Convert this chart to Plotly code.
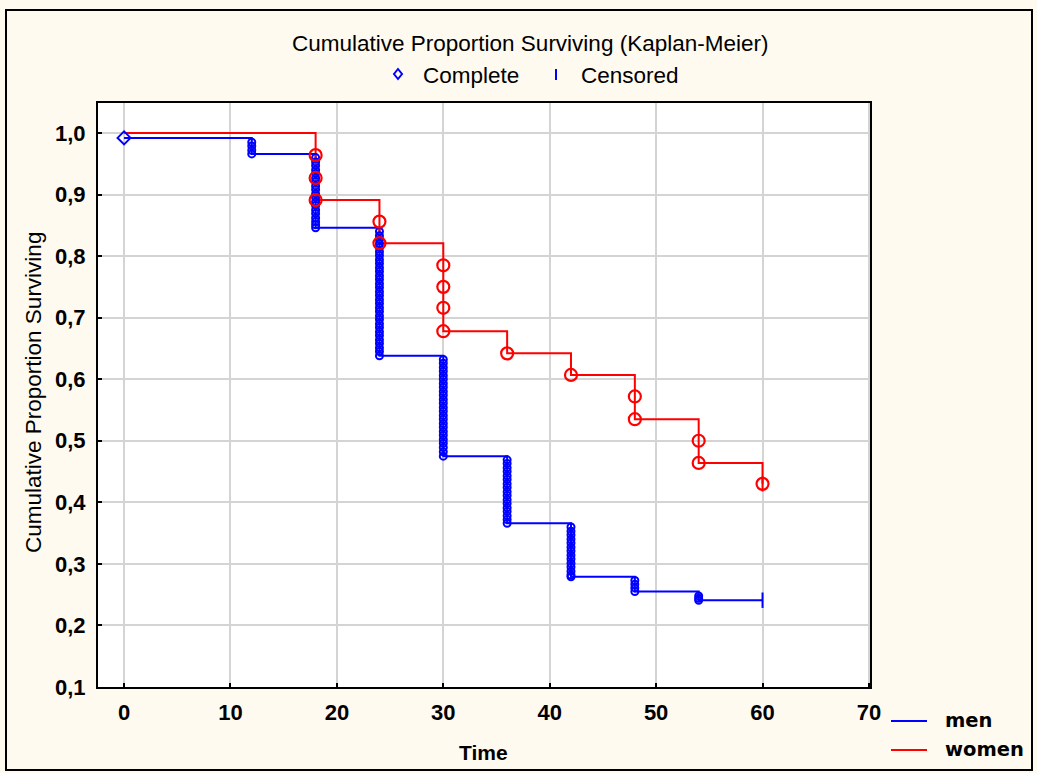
import plotly.graph_objects as go

# ---------------- data ----------------
men_step_time = [0, 12, 18, 24, 30, 36, 42, 48, 54, 60]
men_step_surv = [0.992, 0.966, 0.846, 0.638, 0.475, 0.366, 0.279, 0.255, 0.241, 0.241]

women_step_time = [0, 18, 24, 30, 36, 42, 48, 54, 60]
women_step_surv = [1.0, 0.891, 0.821, 0.678, 0.642, 0.607, 0.535, 0.464, 0.430]

# complete (event) markers - men
men_event_time = ([0] + [12] * 4 + [18] * 19 + [24] * 32 + [30] * 25 + [36] * 17
                  + [42] * 14 + [48] * 4 + [54] * 3)
men_event_surv = [
    0.992,
    0.985, 0.979, 0.972, 0.966,
    0.960, 0.953, 0.947, 0.940, 0.934, 0.927, 0.921, 0.914, 0.908, 0.901,
    0.895, 0.888, 0.882, 0.875, 0.869, 0.862, 0.856, 0.851, 0.846,
    0.840, 0.833, 0.827, 0.820, 0.814, 0.807, 0.801, 0.794, 0.788, 0.781,
    0.775, 0.768, 0.762, 0.755, 0.749, 0.742, 0.736, 0.729, 0.723, 0.716,
    0.710, 0.703, 0.697, 0.690, 0.684, 0.677, 0.671, 0.664, 0.658, 0.651,
    0.645, 0.638,
    0.632, 0.626, 0.619, 0.613, 0.606, 0.600, 0.593, 0.587, 0.580, 0.574,
    0.567, 0.561, 0.554, 0.548, 0.541, 0.535, 0.528, 0.522, 0.515, 0.509,
    0.502, 0.496, 0.489, 0.482, 0.475,
    0.469, 0.463, 0.456, 0.450, 0.443, 0.437, 0.430, 0.424, 0.417, 0.411,
    0.404, 0.398, 0.391, 0.385, 0.378, 0.372, 0.366,
    0.360, 0.353, 0.347, 0.340, 0.334, 0.327, 0.321, 0.314, 0.308, 0.301,
    0.295, 0.288, 0.282, 0.279,
    0.273, 0.267, 0.261, 0.255,
    0.248, 0.244, 0.241,
]

# complete (event) markers - women
women_event_time = [18, 18, 18, 24, 24, 30, 30, 30, 30, 36, 42, 48, 48, 54, 54, 60]
women_event_surv = [0.964, 0.927, 0.891, 0.856, 0.821, 0.785, 0.750, 0.716, 0.678,
                    0.642, 0.607, 0.572, 0.535, 0.500, 0.464, 0.430]

# censored markers
men_cens_time = [60]
men_cens_surv = [0.241]
women_cens_time = [60]
women_cens_surv = [0.430]

x_ticks = [0, 10, 20, 30, 40, 50, 60, 70]
y_ticks = [0.1, 0.2, 0.3, 0.4, 0.5, 0.6, 0.7, 0.8, 0.9, 1.0]

BLUE = "#0000FF"
RED = "#FF0000"

# ---------------- layout geometry ----------------
W, H = 1037, 773
L, R, T, B = 98, 870, 103, 687


def px(x):
    return (x - L) / (R - L)


def py(y):
    return (B - y) / (B - T)


fig = go.Figure()

fig.add_trace(go.Scatter(x=men_step_time, y=men_step_surv, mode="lines",
                         line=dict(color=BLUE, width=2, shape="hv"), name="men",
                         showlegend=False))
fig.add_trace(go.Scatter(x=women_step_time, y=women_step_surv, mode="lines",
                         line=dict(color=RED, width=2, shape="hv"), name="women",
                         showlegend=False))

fig.add_trace(go.Scatter(x=men_event_time[:1], y=men_event_surv[:1], mode="markers",
                         marker=dict(symbol="diamond-open", size=10, color=BLUE,
                                     line=dict(width=2, color=BLUE)),
                         showlegend=False))
fig.add_trace(go.Scatter(x=men_event_time[1:], y=men_event_surv[1:], mode="markers",
                         marker=dict(symbol="circle-open", size=7, color=BLUE,
                                     line=dict(width=2, color=BLUE)),
                         showlegend=False))
fig.add_trace(go.Scatter(x=women_event_time, y=women_event_surv, mode="markers",
                         marker=dict(symbol="circle-open", size=12, color=RED,
                                     line=dict(width=2.2, color=RED)),
                         showlegend=False))
fig.add_trace(go.Scatter(x=men_cens_time, y=men_cens_surv, mode="markers",
                         marker=dict(symbol="line-ns", size=11, color=BLUE,
                                     line=dict(width=2, color=BLUE)),
                         showlegend=False))
fig.add_trace(go.Scatter(x=women_cens_time, y=women_cens_surv, mode="markers",
                         marker=dict(symbol="line-ns", size=11, color=RED,
                                     line=dict(width=2, color=RED)),
                         showlegend=False))

TICKFONT = dict(family="Liberation Sans, Arial", size=22, color="black", weight="bold")

fig.update_xaxes(range=[-2.45, 70.1], tickvals=x_ticks, ticktext=[str(v) for v in x_ticks],
                 showgrid=True, gridcolor="#D4D4D4", gridwidth=2,
                 showline=True, linecolor="black", linewidth=2, mirror=True,
                 ticks="inside", ticklen=4, tickwidth=2, tickcolor="black",
                 tickfont=TICKFONT, ticklabelstandoff=5, zeroline=False)
fig.update_yaxes(range=[0.1, 1.0487], tickvals=y_ticks, tickformat=".1f",
                 showgrid=True, gridcolor="#D4D4D4", gridwidth=2,
                 showline=True, linecolor="black", linewidth=2, mirror=True,
                 ticks="inside", ticklen=4, tickwidth=2, tickcolor="black",
                 tickfont=TICKFONT, ticklabelstandoff=6, zeroline=False)

shapes = [
    # outer frame
    dict(type="rect", xref="paper", yref="paper", x0=px(6), x1=px(1032), y0=py(770), y1=py(10),
         line=dict(color="black", width=2), layer="below"),
    # legend: Complete diamond
    dict(type="path", xref="paper", yref="paper",
         path=f"M {px(398)} {py(69)} L {px(402)} {py(74)} L {px(398)} {py(79)} L {px(394)} {py(74)} Z",
         line=dict(color=BLUE, width=2)),
    # legend: Censored tick
    dict(type="line", xref="paper", yref="paper", x0=px(556), x1=px(556), y0=py(69), y1=py(80),
         line=dict(color=BLUE, width=2)),
    # legend men / women lines
    dict(type="line", xref="paper", yref="paper", x0=px(891), x1=px(927), y0=py(721), y1=py(721),
         line=dict(color=BLUE, width=2)),
    dict(type="line", xref="paper", yref="paper", x0=px(891), x1=px(927), y0=py(750), y1=py(750),
         line=dict(color=RED, width=2)),
]

TXT = dict(family="Liberation Sans, Arial", size=22.5, color="black")
annotations = [
    dict(text="Cumulative Proportion Surviving (Kaplan-Meier)", x=px(530), y=py(43),
         xref="paper", yref="paper", showarrow=False, font=TXT, xanchor="center", yanchor="middle"),
    dict(text="Complete", x=px(421), y=py(75), xref="paper", yref="paper", showarrow=False,
         font=TXT, xanchor="left", yanchor="middle"),
    dict(text="Censored", x=px(579), y=py(75), xref="paper", yref="paper", showarrow=False,
         font=TXT, xanchor="left", yanchor="middle"),
    dict(text="<b>Time</b>", x=px(483), y=py(752), xref="paper", yref="paper", showarrow=False,
         font=dict(family="Liberation Sans, Arial", size=21, color="black"),
         xanchor="center", yanchor="middle"),
    dict(text="Cumulative Proportion Surviving", x=px(33), y=py(393), xref="paper", yref="paper",
         showarrow=False, font=TXT, textangle=-90, xanchor="center", yanchor="middle"),
    dict(text="<b>men</b>", x=px(943), y=py(720), xref="paper", yref="paper", showarrow=False,
         font=dict(family="DejaVu Sans", size=19.5, color="black"), xanchor="left", yanchor="middle"),
    dict(text="<b>women</b>", x=px(943), y=py(749), xref="paper", yref="paper", showarrow=False,
         font=dict(family="DejaVu Sans", size=19.5, color="black"), xanchor="left", yanchor="middle"),
]

fig.update_layout(
    width=W, height=H,
    margin=dict(l=L, r=W - R, t=T, b=H - B, pad=0),
    paper_bgcolor="#FFFAF0",
    plot_bgcolor="white",
    separators=", ",
    shapes=shapes,
    annotations=annotations,
    showlegend=False,
)

fig.write_html("out.html")
